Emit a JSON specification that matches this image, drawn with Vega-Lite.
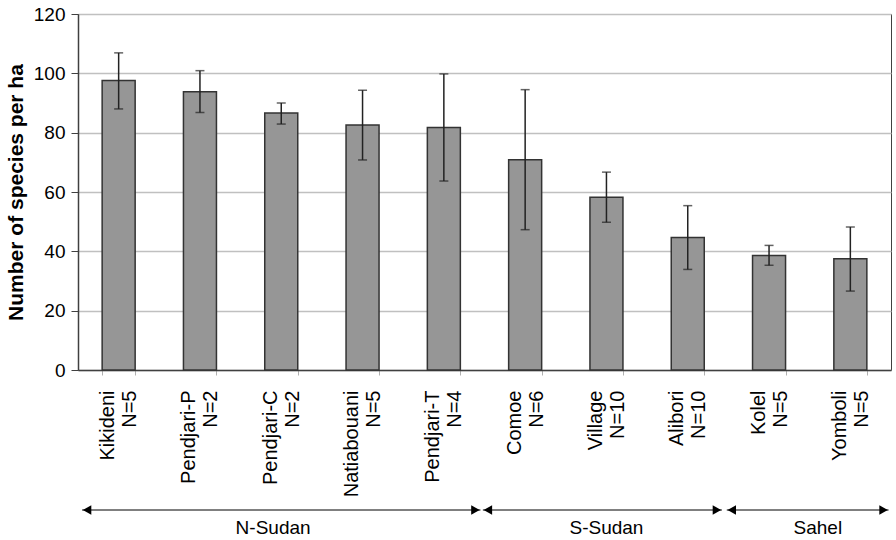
{
  "$schema": "https://vega.github.io/schema/vega-lite/v6.json",
  "background": "white",
  "padding": {"left": 4, "top": 4, "right": 4, "bottom": 0},
  "config": {
    "font": "Liberation Sans",
    "view": {"stroke": "#404040", "strokeWidth": 1},
    "concat": {"spacing": 7}
  },
  "datasets": {
    "sites": [
      {"site": "Kikideni|N=5", "mean": 97.6, "lo": 88.0, "hi": 106.9},
      {"site": "Pendjari-P|N=2", "mean": 93.8, "lo": 86.8, "hi": 100.9},
      {"site": "Pendjari-C|N=2", "mean": 86.6, "lo": 82.9, "hi": 90.0},
      {"site": "Natiabouani|N=5", "mean": 82.6, "lo": 70.8, "hi": 94.3},
      {"site": "Pendjari-T|N=4", "mean": 81.7, "lo": 63.7, "hi": 99.8},
      {"site": "Comoe|N=6", "mean": 70.9, "lo": 47.3, "hi": 94.5},
      {"site": "Village|N=10", "mean": 58.2, "lo": 49.8, "hi": 66.7},
      {"site": "Alibori|N=10", "mean": 44.7, "lo": 33.9, "hi": 55.4},
      {"site": "Kolel|N=5", "mean": 38.6, "lo": 35.3, "hi": 42.0},
      {"site": "Yomboli|N=5", "mean": 37.5, "lo": 26.6, "hi": 48.2}
    ],
    "zones": [
      {"zone": "N-Sudan", "start": 0.05, "end": 4.95, "center": 2.4},
      {"zone": "S-Sudan", "start": 4.98, "end": 7.92, "center": 6.5},
      {"zone": "Sahel", "start": 7.98, "end": 9.97, "center": 9.1}
    ]
  },
  "vconcat": [
    {
      "width": 813,
      "height": 356,
      "data": {"name": "sites"},
      "encoding": {
        "x": {
          "field": "site",
          "type": "nominal",
          "sort": null,
          "scale": {"paddingInner": 0.594, "paddingOuter": 0.297},
          "axis": {
            "title": null,
            "labelExpr": "datum.value ? split(datum.value, '|') : ''",
            "labelAngle": -90,
            "labelAlign": "right",
            "labelBaseline": "middle",
            "labelFontSize": 20,
            "labelColor": "black",
            "labelLineHeight": 22,
            "labelPadding": 15,
            "labelOffset": -11,
            "tickBand": "extent",
            "tickSize": 5,
            "tickColor": "#b0b0b0",
            "domainColor": "#404040",
            "domainWidth": 1.5,
            "labelLimit": 300
          }
        }
      },
      "layer": [
        {
          "mark": {"type": "bar", "fill": "#969696", "stroke": "#333333", "strokeWidth": 1.5},
          "encoding": {
            "y": {
              "field": "mean",
              "type": "quantitative",
              "scale": {"domain": [0, 120], "nice": false},
              "axis": {
                "title": "Number of species per ha",
                "titleFontSize": 21,
                "titleFontWeight": "bold",
                "titleColor": "black",
                "titlePadding": 7,
                "values": [0, 20, 40, 60, 80, 100, 120],
                "labelFontSize": 19,
                "labelColor": "black",
                "labelPadding": 6,
                "tickSize": 7,
                "tickColor": "#404040",
                "domainColor": "#404040",
                "domainWidth": 1.5,
                "gridColor": "#c0c0c0",
                "gridWidth": 1.5
              }
            }
          }
        },
        {
          "mark": {"type": "rule", "color": "#222222", "strokeWidth": 1.5},
          "encoding": {
            "y": {"field": "lo", "type": "quantitative"},
            "y2": {"field": "hi"}
          }
        },
        {
          "mark": {"type": "tick", "color": "#222222", "thickness": 1.5, "size": 9},
          "encoding": {"y": {"field": "lo", "type": "quantitative"}}
        },
        {
          "mark": {"type": "tick", "color": "#222222", "thickness": 1.5, "size": 9},
          "encoding": {"y": {"field": "hi", "type": "quantitative"}}
        }
      ]
    },
    {
      "width": 813,
      "height": 18,
      "view": {"stroke": null},
      "data": {"name": "zones"},
      "layer": [
        {
          "mark": {"type": "rule", "color": "black", "strokeWidth": 1},
          "encoding": {
            "x": {"field": "start", "type": "quantitative", "scale": {"domain": [0, 10], "nice": false}, "axis": null},
            "x2": {"field": "end"},
            "y": {"datum": 1, "type": "quantitative", "scale": {"domain": [0, 1]}, "axis": null}
          }
        },
        {
          "mark": {"type": "point", "shape": "triangle-left", "filled": true, "color": "black", "size": 95, "opacity": 1, "xOffset": 5},
          "encoding": {
            "x": {"field": "start", "type": "quantitative"},
            "y": {"datum": 1, "type": "quantitative"}
          }
        },
        {
          "mark": {"type": "point", "shape": "triangle-right", "filled": true, "color": "black", "size": 95, "opacity": 1, "xOffset": -5},
          "encoding": {
            "x": {"field": "end", "type": "quantitative"},
            "y": {"datum": 1, "type": "quantitative"}
          }
        },
        {
          "mark": {"type": "text", "fontSize": 19, "color": "black", "baseline": "middle", "align": "center"},
          "encoding": {
            "x": {"field": "center", "type": "quantitative"},
            "y": {"datum": 0, "type": "quantitative"},
            "text": {"field": "zone"}
          }
        }
      ]
    }
  ]
}
